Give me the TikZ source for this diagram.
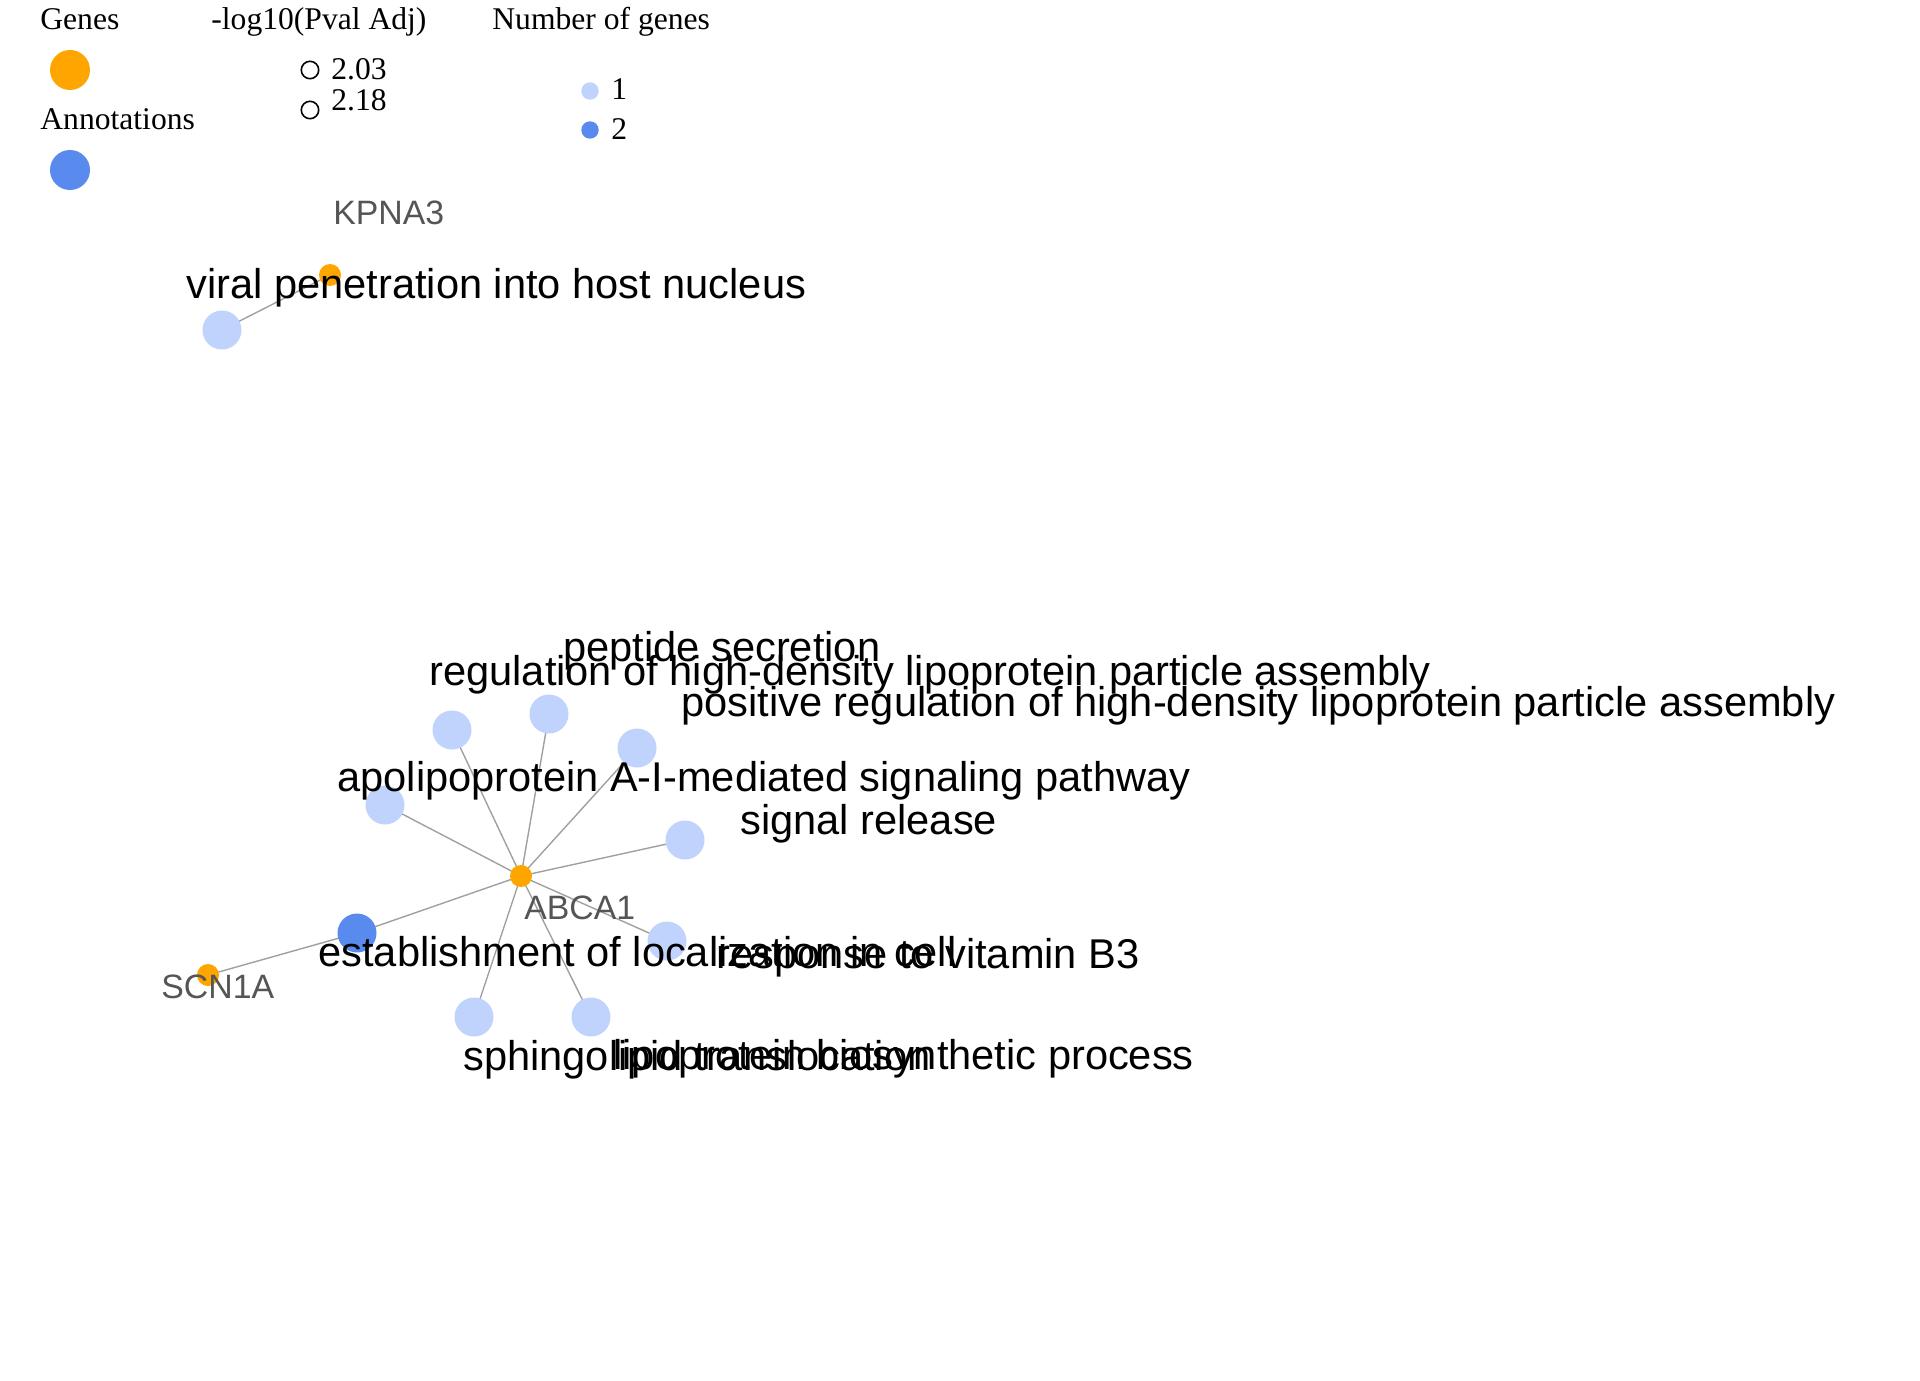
\documentclass[tikz,border=0pt]{standalone}
\usepackage{fontspec}
\setmainfont{Liberation Serif}
\newfontfamily\labfont{Liberation Sans}
\pgfdeclarelayer{background}
\pgfsetlayers{background,main}
\definecolor{geneor}{RGB}{255,165,0}
\definecolor{annlight}{RGB}{191,211,252}
\definecolor{anndark}{RGB}{89,139,238}
\definecolor{edgegray}{RGB}{160,160,160}
\definecolor{genetext}{RGB}{85,85,85}
\tikzset{
  gene/.style={circle,fill=geneor,inner sep=0pt,minimum size=11pt},
  ann/.style={circle,fill=annlight,inner sep=0pt,minimum size=19.5pt},
  annd/.style={circle,fill=anndark,inner sep=0pt,minimum size=19.5pt},
  edge/.style={draw=edgegray,line width=0.7pt},
  annlabel/.style={anchor=base west,inner sep=0pt,font=\labfont\fontsize{20.8}{24}\selectfont,text=black},
  genelabel/.style={anchor=base west,inner sep=0pt,font=\labfont\fontsize{16.9}{20}\selectfont,text=genetext},
  legtext/.style={anchor=base west,inner sep=0pt,font=\fontsize{15.8}{19}\selectfont,text=black},
  legbig/.style={circle,inner sep=0pt,minimum size=20pt},
  legsmall/.style={circle,inner sep=0pt,minimum size=8.7pt},
}
\begin{document}
\begin{tikzpicture}[x=0.5pt,y=-0.5pt]
\useasboundingbox (0,0) rectangle (1920,1380);
\begin{pgfonlayer}{background}
\fill[white] (0,0) rectangle (1920,1380);
\end{pgfonlayer}
% legend
\node[legtext] (lgenes) at (40,30) {Genes};
\node[legbig,fill=geneor] (lgc) at (70,70) {};
\node[legtext] (lann) at (40,130) {Annotations};
\node[legbig,fill=anndark] (lac) at (70,170) {};
\node[legtext] (lpv) at (211,30) {-log10(Pval Adj)};
\node[legsmall,draw=black,line width=0.8pt] (lp1) at (310,70) {};
\node[legsmall,draw=black,line width=0.8pt] (lp2) at (310,110) {};
\node[legtext] (lp1t) at (331,80) {2.03};
\node[legtext] (lp2t) at (331,111) {2.18};
\node[legtext] (lng) at (492,30) {Number of genes};
\node[legsmall,fill=annlight] (ln1) at (590,91) {};
\node[legsmall,fill=anndark] (ln2) at (590,130) {};
\node[legtext] (ln1t) at (611,100) {1};
\node[legtext] (ln2t) at (611,140) {2};
% nodes
\node[gene] (kpna3) at (330,275) {};
\node[ann] (viral) at (222,330) {};
\node[gene] (abca1) at (521,876) {};
\node[gene] (scn1a) at (208,975) {};
\node[annd] (estab) at (357,933) {};
\node[ann] (a1) at (452,730) {};
\node[ann] (a2) at (549,714) {};
\node[ann] (a3) at (637,748) {};
\node[ann] (a4) at (385,805) {};
\node[ann] (a5) at (685,840) {};
\node[ann] (a6) at (667,941) {};
\node[ann] (a7) at (474,1017) {};
\node[ann] (a8) at (591,1017) {};
% edges
\begin{pgfonlayer}{background}
\draw[edge] (kpna3.center) -- (viral.center);
\draw[edge] (scn1a.center) -- (estab.center);
\foreach \t in {estab,a1,a2,a3,a4,a5,a6,a7,a8}
  \draw[edge] (abca1.center) -- (\t.center);
\end{pgfonlayer}
% labels
\node[genelabel] (lkpna3) at (333,225) {KPNA3};
\node[genelabel] (labca1) at (524,919) {ABCA1};
\node[genelabel] (lscn1a) at (161,998) {SCN1A};
\node[annlabel] (lviral) at (186,298) {viral penetration into host nucleus};
\node[annlabel] (lpep) at (563,661) {peptide secretion};
\node[annlabel] (lreg) at (429,685) {regulation of high-density lipoprotein particle assembly};
\node[annlabel] (lpos) at (681,716) {positive regulation of high-density lipoprotein particle assembly};
\node[annlabel] (lapo) at (337,791) {apolipoprotein A-I-mediated signaling pathway};
\node[annlabel] (lsig) at (740,834) {signal release};
\node[annlabel] (lest) at (318,966) {establishment of localization in cell};
\node[annlabel] (lresp) at (716,968) {response to vitamin B3};
\node[annlabel] (lsph) at (463,1070) {sphingolipid translocation};
\node[annlabel] (llip) at (613,1069) {lipoprotein biosynthetic process};
\end{tikzpicture}
\end{document}
